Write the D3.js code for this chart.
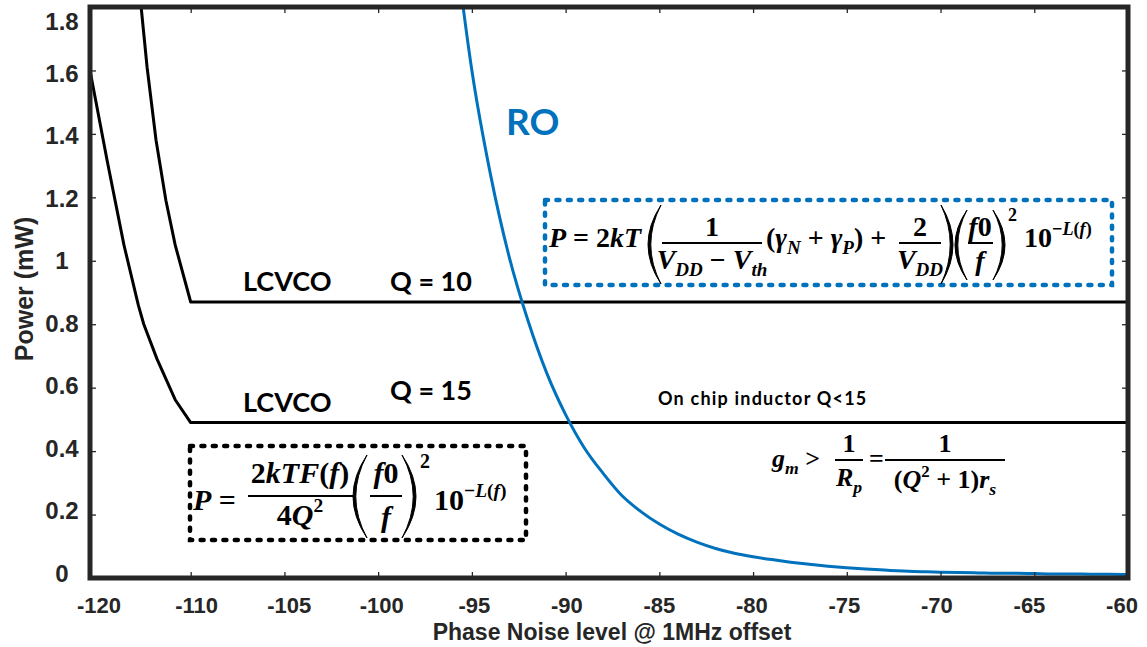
<!DOCTYPE html>
<html>
<head>
<meta charset="utf-8">
<script src="https://cdn.jsdelivr.net/npm/d3@7"></script>
<style>
  html, body { margin: 0; padding: 0; background: #fff; }
  svg { display: block; }
</style>
</head>
<body>
<svg id="chart" width="1147" height="647"></svg>
<script>
// Phase noise at 1 MHz offset (dBc/Hz) versus oscillator power (mW)

// LC VCO, tank Q = 10
const pnLCQ10 = [-114.92, -114.33, -113.44, -112.46, -111.54, -110, -60];
const pwLCQ10 = [1.80, 1.61, 1.38, 1.19, 1.05, 0.87, 0.87];

// LC VCO, tank Q = 15
const pnLCQ15 = [-120, -118.26, -116.63, -115.2, -114.66, -113.34, -111.54, -110, -60];
const pwLCQ15 = [1.60, 1.31, 1.05, 0.86, 0.80, 0.69, 0.562, 0.49, 0.49];

// Ring oscillator
const pnRO = [-96, -95, -94, -93, -92, -91, -90, -89, -88, -87, -86, -85, -84, -83, -82, -81,
              -80, -79, -78, -77, -76, -75, -74, -73, -72, -71, -70, -69, -68, -67, -66, -65,
              -64, -63, -62, -61, -60];
const pwRO = [2.05, 1.60, 1.27, 1.01, 0.81, 0.645, 0.515, 0.41, 0.33, 0.26, 0.21, 0.17, 0.138, 0.113, 0.093, 0.078,
              0.067, 0.058, 0.050, 0.043, 0.037, 0.032, 0.028, 0.025, 0.022, 0.020, 0.018, 0.017, 0.016, 0.015, 0.015, 0.014,
              0.013, 0.013, 0.012, 0.012, 0.011];

const xTickValues = [-120, -110, -105, -100, -95, -90, -85, -80, -75, -70, -65, -60];
const xTickLabels = ["-120", "-110", "-105", "-100", "-95", "-90", "-85", "-80", "-75", "-70", "-65", "-60"];
const yTickValues = [0, 0.2, 0.4, 0.6, 0.8, 1, 1.2, 1.4, 1.6, 1.8];
const yTickLabels = ["0", "0.2", "0.4", "0.6", "0.8", "1", "1.2", "1.4", "1.6", "1.8"];

const W = 1147, H = 647;
const M = { left: 90, right: 1128, top: 7, bottom: 578 };
const AXIS = "#262626";
const BLUE = "#0072BD";

const svg = d3.select("#chart");
svg.append("rect").attr("width", W).attr("height", H).attr("fill", "#fff");

// The -120..-110 stretch of the axis is compressed (axis break at -110)
const breakX = M.left + (M.right - M.left) * 0.097;
const x = d3.scaleLinear().domain([-120, -110, -60]).range([M.left, breakX, M.right]);
const y = d3.scaleLinear().domain([0, 1.8]).range([M.bottom, M.top]);

// tick labels sit on a slightly narrower span than the ticks themselves
const xLab = d3.scaleLinear().domain([-120, -110, -60]).range([M.left + 9, breakX + 6, M.right - 6]);
const yLab = d3.scaleLinear().domain([0, 1.6]).range([M.bottom - 4.7, y(1.6) + 2.6]);

svg.append("clipPath").attr("id", "plotClip")
  .append("rect").attr("x", M.left).attr("y", M.top)
  .attr("width", M.right - M.left).attr("height", M.bottom - M.top);

const plot = svg.append("g").attr("clip-path", "url(#plotClip)");

const line = d3.line().x(d => x(d[0])).y(d => y(d[1]));
const smooth = d3.line().x(d => x(d[0])).y(d => y(d[1])).curve(d3.curveMonotoneX);

plot.append("path").datum(d3.zip(pnLCQ10, pwLCQ10))
  .attr("d", line).attr("fill", "none").attr("stroke", "#000")
  .attr("stroke-width", 3).attr("stroke-linejoin", "round");
plot.append("path").datum(d3.zip(pnLCQ15, pwLCQ15))
  .attr("d", line).attr("fill", "none").attr("stroke", "#000")
  .attr("stroke-width", 3).attr("stroke-linejoin", "round");
plot.append("path").datum(d3.zip(pnRO, pwRO))
  .attr("d", smooth).attr("fill", "none").attr("stroke", BLUE)
  .attr("stroke-width", 3).attr("stroke-linejoin", "round");

// ---- axes (inward ticks on all four sides, boxed) ----
function styleAxis(g) {
  g.select(".domain").remove();
  g.selectAll(".tick line").attr("stroke", AXIS).attr("stroke-width", 1.3);
  g.selectAll(".tick text").remove();
}
svg.append("g").attr("transform", `translate(0,${M.bottom})`)
  .call(d3.axisBottom(x).tickValues(xTickValues).tickSizeInner(-6).tickSizeOuter(0)).call(styleAxis);
svg.append("g").attr("transform", `translate(0,${M.top})`)
  .call(d3.axisTop(x).tickValues(xTickValues).tickSizeInner(-6).tickSizeOuter(0)).call(styleAxis);
svg.append("g").attr("transform", `translate(${M.left},0)`)
  .call(d3.axisLeft(y).tickValues(yTickValues).tickSizeInner(-6).tickSizeOuter(0)).call(styleAxis);
svg.append("g").attr("transform", `translate(${M.right},0)`)
  .call(d3.axisRight(y).tickValues(yTickValues).tickSizeInner(-6).tickSizeOuter(0)).call(styleAxis);

svg.append("rect").attr("x", M.left).attr("y", M.top)
  .attr("width", M.right - M.left).attr("height", M.bottom - M.top)
  .attr("fill", "none").attr("stroke", AXIS).attr("stroke-width", 5);

const sans = "'Liberation Sans', Arial, sans-serif";

svg.append("g").selectAll("text").data(xTickValues).join("text")
  .attr("x", d => xLab(d)).attr("y", M.bottom + 35)
  .attr("text-anchor", "middle").attr("font-family", sans).attr("font-weight", "bold")
  .attr("font-size", 22).attr("fill", AXIS)
  .text((d, i) => xTickLabels[i]);

svg.append("g").selectAll("text").data(yTickValues).join("text")
  .attr("x", 62).attr("y", d => Math.max(yLab(d), 21))
  .attr("dy", "0.36em")
  .attr("text-anchor", "middle").attr("font-family", sans).attr("font-weight", "bold")
  .attr("font-size", 24).attr("fill", AXIS)
  .text((d, i) => yTickLabels[i]);

svg.append("text").attr("x", 612).attr("y", 640)
  .attr("text-anchor", "middle").attr("font-family", sans).attr("font-weight", "bold")
  .attr("font-size", 23).attr("fill", AXIS)
  .text("Phase Noise level @ 1MHz offset");

svg.append("text").attr("transform", "translate(33,289) rotate(-90)")
  .attr("text-anchor", "middle").attr("font-family", sans).attr("font-weight", "bold")
  .attr("font-size", 25).attr("fill", AXIS)
  .text("Power (mW)");

// ---- curve labels ----
const label = "Lato, 'Open Sans', sans-serif";
function tag(txt, px, py, size, color, spacing) {
  svg.append("text").attr("x", px).attr("y", py)
    .attr("font-family", label).attr("font-weight", "bold")
    .attr("letter-spacing", spacing || 0)
    .attr("font-size", size).attr("fill", color || "#000").text(txt);
}
tag("LCVCO", 243, 291, 27);
tag("Q = 10", 390, 291, 27);
tag("LCVCO", 243, 412, 27);
tag("Q = 15", 390, 400, 27);
tag("RO", 506, 135, 37, BLUE);
tag("On chip inductor Q<15", 658, 405, 18, "#000", 1.2);

// ---- equations ----
const serif = "'Liberation Serif', 'Times New Roman', serif";
// parts: [text, style] with style letters: i = italic, _ = subscript, ^ = superscript
function mathText(px, py, parts, size, anchor) {
  const t = svg.append("text").attr("x", px).attr("y", py)
    .attr("font-family", serif).attr("font-weight", "bold")
    .attr("font-size", size).attr("text-anchor", anchor || "start").attr("fill", "#000");
  let shift = 0;
  parts.forEach(([txt, style]) => {
    let target = 0, fs = size;
    if (style.includes("_")) { target = size * 0.25; fs = size * 0.68; }
    if (style.includes("^")) { target = -size * 0.42; fs = size * 0.65; }
    t.append("tspan").text(txt)
      .attr("font-style", style.includes("i") ? "italic" : "normal")
      .attr("font-size", fs)
      .attr("dy", target - shift);
    shift = target;
  });
  return t;
}
function bar(x0, x1, yy, w) {
  svg.append("line").attr("x1", x0).attr("x2", x1).attr("y1", yy).attr("y2", yy)
    .attr("stroke", "#000").attr("stroke-width", w || 2);
}
// tall parenthesis as a crescent; side = "l" or "r"
function paren(x0, x1, y0, y1, side, thick) {
  const mid = (y0 + y1) / 2, t = thick || 2.8;
  const inner = side === "l" ? x1 : x0, outer = side === "l" ? x0 : x1;
  const dir = side === "l" ? 1 : -1;
  const c1 = 2 * outer - inner, c2 = 2 * (outer + dir * t) - inner;
  svg.append("path")
    .attr("d", `M${inner},${y0} Q${c1},${mid} ${inner},${y1} Q${c2},${mid} ${inner},${y0} Z`)
    .attr("fill", "#000").attr("stroke", "#000").attr("stroke-width", 1);
}
function dashedBox(x0, y0, x1, y1, color) {
  svg.append("rect").attr("x", x0).attr("y", y0).attr("width", x1 - x0).attr("height", y1 - y0)
    .attr("fill", "none").attr("stroke", color).attr("stroke-width", 4.5)
    .attr("stroke-dasharray", "3 8.4").attr("stroke-linecap", "round");
}
const sp = "\u00A0";

// RO power equation
dashedBox(545, 200, 1112, 285, BLUE);
mathText(549, 247, [["P", "i"], [sp + "=" + sp + "2", ""], ["kT", "i"]], 28);
paren(648, 661, 205, 284, "l");
mathText(712, 236, [["1", ""]], 28, "middle");
bar(662, 762, 243);
mathText(712, 269, [["V", "i"], ["DD", "i_"], [sp + "\u2212" + sp, ""], ["V", "i"], ["th", "i_"]], 28, "middle");
mathText(766, 247, [["(", ""], ["\u03B3", "i"], ["N", "i_"], [sp + "+" + sp, ""], ["\u03B3", "i"], ["P", "i_"], [")" + sp + "+", ""]], 28);
mathText(920, 236, [["2", ""]], 28, "middle");
bar(899, 941, 243);
mathText(920, 269, [["V", "i"], ["DD", "i_"]], 28, "middle");
paren(941, 953, 205, 284, "r");
paren(955, 967, 210, 280, "l");
mathText(980, 236, [["f", "i"], ["0", ""]], 28, "middle");
bar(968, 993, 243);
mathText(980, 270, [["f", "i"]], 28, "middle");
paren(993, 1005, 210, 280, "r");
mathText(1008, 221, [["2", ""]], 18);
mathText(1024, 247, [["10", ""], ["\u2212", "^"], ["L", "i^"], ["(", "^"], ["f", "i^"], [")", "^"]], 28);

// LC VCO power equation
dashedBox(190, 446, 526, 540, "#000");
mathText(193, 510, [["P", "i"], [sp + "=", ""]], 30);
mathText(300, 483, [["2", ""], ["kTF", "i"], ["(", ""], ["f", "i"], [")", ""]], 30, "middle");
bar(248, 353, 496);
mathText(300, 525, [["4", ""], ["Q", "i"], ["2", "^"]], 30, "middle");
paren(353, 367, 455, 538, "l");
mathText(386, 483, [["f", "i"], ["0", ""]], 30, "middle");
bar(370, 402, 496);
mathText(386, 527, [["f", "i"]], 30, "middle");
paren(402, 416, 455, 538, "r");
mathText(420, 468, [["2", ""]], 20);
mathText(434, 510, [["10", ""], ["\u2212", "^"], ["L", "i^"], ["(", "^"], ["f", "i^"], [")", "^"]], 30);

// start-up condition
mathText(772, 467, [["g", "i"], ["m", "i_"], [sp + ">", ""]], 26);
mathText(849, 452, [["1", ""]], 26, "middle");
bar(835, 863, 460);
mathText(849, 486, [["R", "i"], ["p", "i_"]], 26, "middle");
mathText(869, 467, [["=", ""]], 26);
mathText(945, 452, [["1", ""]], 26, "middle");
bar(885, 1005, 460);
mathText(945, 488, [["(", ""], ["Q", "i"], ["2", "^"], [sp + "+" + sp + "1)", ""], ["r", "i"], ["s", "i_"]], 26, "middle");
</script>
</body>
</html>
